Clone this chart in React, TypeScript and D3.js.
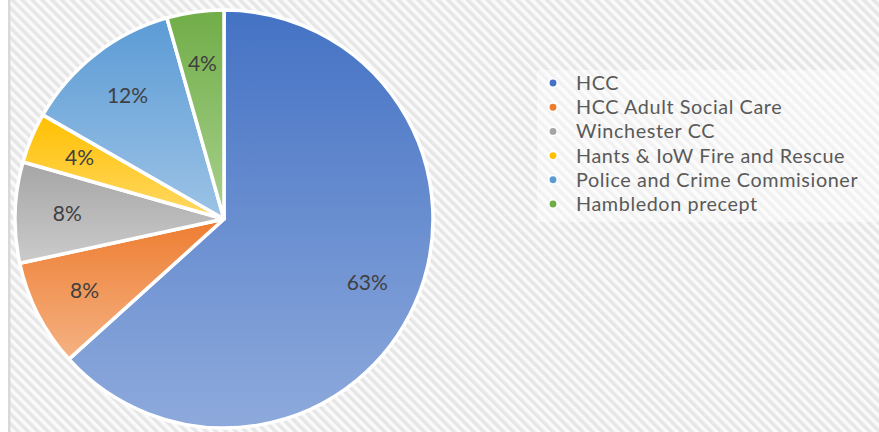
import React, { useRef, useEffect } from "react";
import * as d3 from "d3";

const categories = [
  "HCC",
  "HCC Adult Social Care",
  "Winchester CC",
  "Hants & IoW Fire and Rescue",
  "Police and Crime Commisioner",
  "Hambledon precept",
];
const shares = [63.3, 8.3, 7.8, 3.9, 12.3, 4.4];
const labels = ["63%", "8%", "8%", "4%", "12%", "4%"];
const topColors = ["#4472c4", "#ed7d31", "#a5a5a5", "#ffc000", "#5b9bd5", "#70ad47"];
const bottomColors = ["#8eaadc", "#f5b283", "#cbcbcb", "#ffd966", "#9dc3e6", "#a9d18e"];

const App = () => {
  const container = useRef<SVGSVGElement>(null);

  useEffect(() => {
    const svg = d3.select(container.current);
    svg.selectAll("*").remove();

    const width = 879;
    const height = 432;
    const cx = 224;
    const cy = 219;
    const r = 209;
    const font = "Lato, 'Open Sans', sans-serif";

    const defs = svg.append("defs");
    const pat = defs
      .append("pattern")
      .attr("id", "hatch")
      .attr("patternUnits", "userSpaceOnUse")
      .attr("width", 7)
      .attr("height", 7)
      .attr("patternTransform", "rotate(-45)");
    pat.append("rect").attr("width", 7).attr("height", 7).attr("fill", "#fafafa");
    pat.append("rect").attr("width", 3.5).attr("height", 7).attr("fill", "#e6e6e6");

    topColors.forEach((c, i) => {
      const g = defs
        .append("linearGradient")
        .attr("id", "grad" + i)
        .attr("x1", 0)
        .attr("y1", 0)
        .attr("x2", 0)
        .attr("y2", 1);
      g.append("stop").attr("offset", "0%").attr("stop-color", c);
      g.append("stop").attr("offset", "100%").attr("stop-color", bottomColors[i]);
    });

    // background
    svg.append("rect").attr("width", width).attr("height", height).attr("fill", "#ffffff");
    svg
      .append("rect")
      .attr("x", 10)
      .attr("y", 0)
      .attr("width", width - 10)
      .attr("height", height)
      .attr("fill", "url(#hatch)");
    svg
      .append("rect")
      .attr("x", 8)
      .attr("y", 0)
      .attr("width", 2.5)
      .attr("height", height)
      .attr("fill", "#d9d9d9");

    const data = categories.map((c, i) => ({ name: c, val: shares[i], label: labels[i], i }));

    const pie = d3
      .pie<any>()
      .sort(null)
      .value((d) => d.val);
    const arcs = pie(data);

    const arc = d3.arc<any>().innerRadius(0).outerRadius(r);
    const labelArc = d3.arc<any>().innerRadius(r * 0.75).outerRadius(r * 0.75);

    const plot_g = svg.append("g").attr("transform", `translate(${cx},${cy})`);

    plot_g
      .selectAll(".slice")
      .data(arcs)
      .join("path")
      .attr("class", "slice")
      .attr("d", arc)
      .attr("fill", (d) => `url(#grad${d.data.i})`)
      .attr("stroke", "#ffffff")
      .attr("stroke-width", 3.5)
      .attr("stroke-linejoin", "round");

    plot_g
      .selectAll(".lbl")
      .data(arcs)
      .join("text")
      .attr("class", "lbl")
      .attr("transform", (d) => `translate(${labelArc.centroid(d)})`)
      .attr("text-anchor", "middle")
      .attr("dy", "0.35em")
      .attr("font-family", font)
      .attr("font-size", 21)
      .attr("fill", "#404040")
      .text((d) => d.data.label);

    // legend
    svg
      .append("rect")
      .attr("x", 537)
      .attr("y", 70)
      .attr("width", width - 537)
      .attr("height", 152)
      .attr("fill", "#ffffff")
      .attr("opacity", 0.45);

    const legend = svg
      .selectAll(".leg")
      .data(data)
      .join("g")
      .attr("class", "leg")
      .attr("transform", (d, i) => `translate(553, ${83 + i * 24.2})`);

    legend
      .append("circle")
      .attr("r", 4.2)
      .attr("fill", (d) => topColors[d.i])
      .attr("stroke", "#ffffff")
      .attr("stroke-width", 1.5);

    legend
      .append("text")
      .attr("x", 23)
      .attr("dy", "0.35em")
      .attr("font-family", font)
      .attr("font-size", 19.8)
      .attr("letter-spacing", 0.6)
      .attr("fill", "#595959")
      .text((d) => d.name);
  }, []);

  return (
    <svg
      ref={container}
      width={879}
      height={432}
      style={{ position: "absolute", left: 0, top: 0, display: "block" }}
    />
  );
};

export default App;
